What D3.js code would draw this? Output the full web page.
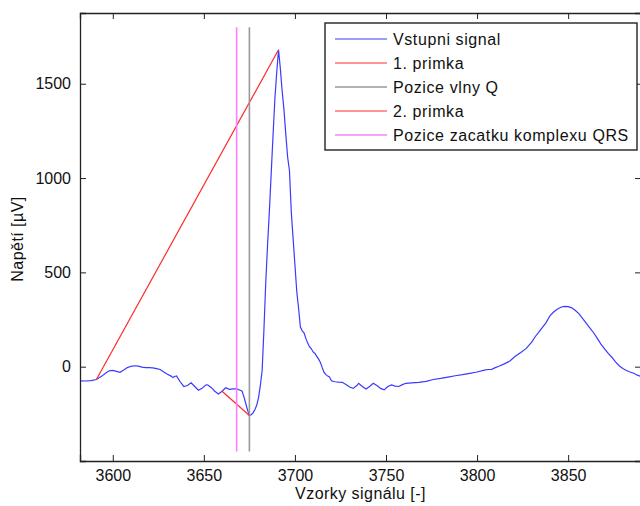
<!DOCTYPE html>
<html lang="cs">
<head>
<meta charset="UTF-8">
<title>Detekce Q</title>
<script src="https://d3js.org/d3.v7.min.js"></script>
<style>
  body { margin: 0; background: #fff; }
  text { font-family: "Liberation Sans", Arial, sans-serif; fill: #111; }
</style>
</head>
<body>
<div id="chart"></div>
<script>
// signal samples
const samples = [3582,3585,3588,3591,3594,3596,3598,3600,3602,3604,3606,3608,3610,3612,3614,3616,3618,3620,3622,3624,3626,3628,3630,3632,3633,3634,3635,3636,3637,3639,3641,3643,3645,3647,3649,3651,3652,3654,3656,3658,3660,3662,3664,3666,3668,3670,3671,3672,3673,3674,3675,3676,3677,3678,3679,3680,3681,3682,3683,3684,3685,3686,3687,3688,3689,3690,3691,3692,3693,3694,3695,3696,3697,3698,3699,3700,3701,3702,3703,3704,3705,3706,3707,3708,3709,3710,3711,3712,3713,3714,3715,3716,3717,3718,3719,3720,3722,3724,3726,3728,3730,3732,3734,3735,3737,3739,3741,3743,3745,3747,3749,3751,3753,3755,3757,3759,3761,3764,3768,3772,3776,3780,3784,3788,3792,3796,3800,3804,3806,3808,3810,3812,3815,3818,3821,3824,3827,3830,3832,3834,3836,3838,3840,3842,3844,3846,3848,3850,3852,3854,3856,3858,3860,3862,3864,3866,3868,3870,3872,3874,3876,3878,3880,3882,3884,3886,3888,3890];
const signal = [-75,-76,-74,-68,-50,-35,-22,-20,-25,-30,-18,-5,2,5,3,-2,-5,-5,-6,-10,-15,-28,-40,-50,-58,-52,-49,-65,-80,-105,-100,-85,-105,-125,-115,-97,-96,-110,-130,-145,-130,-112,-120,-118,-118,-125,-130,-160,-195,-230,-259,-255,-245,-228,-205,-165,-100,-20,200,450,650,830,1030,1230,1420,1560,1680,1580,1460,1360,1230,1110,1040,820,680,540,400,310,210,190,180,150,125,106,95,78,70,55,40,22,-5,-30,-42,-50,-55,-75,-80,-82,-83,-95,-108,-115,-100,-88,-105,-118,-105,-88,-100,-115,-123,-105,-97,-103,-105,-95,-88,-86,-83,-78,-68,-62,-55,-48,-42,-35,-28,-18,-15,-14,-5,2,15,30,55,75,97,130,160,185,210,235,270,290,305,315,320,318,312,298,280,255,230,205,180,150,120,95,70,50,25,5,-10,-20,-28,-35,-45,-52];

// fitted lines and markers
const line1 = [[3591, -68], [3691, 1680]];
const line2 = [[3660, -130], [3675, -259]];
const qPos = 3675;
const qrsStart = 3668;
const markerSpan = [-450, 1800];

const xTicks = [3600, 3650, 3700, 3750, 3800, 3850];
const yTicks = [0, 500, 1000, 1500];

const legendItems = [
  { label: "Vstupni signal", color: "#3a3aff", width: 1.2 },
  { label: "1. primka", color: "#ff2a2a", width: 1.2 },
  { label: "Pozice vlny Q", color: "#999999", width: 1.6 },
  { label: "2. primka", color: "#ff2a2a", width: 1.2 },
  { label: "Pozice zacatku komplexu QRS", color: "#ff80ff", width: 1.6 }
];

const width = 640, height = 506;
const mLeft = 80, mRight = 641, mTop = 13, mBottom = 461;

const svg = d3.select("#chart").append("svg")
  .attr("width", width)
  .attr("height", height);

const x = d3.scaleLinear().domain([3582, 3890]).range([mLeft, mRight]);
const y = d3.scaleLinear().domain([-500, 1875]).range([mBottom, mTop]);

const plot = svg.append("g");
plot.append("clipPath").attr("id", "clip")
  .append("rect").attr("x", mLeft).attr("y", mTop)
  .attr("width", mRight - mLeft).attr("height", mBottom - mTop);

const g = plot.append("g").attr("clip-path", "url(#clip)");
const line = d3.line().x(d => x(d[0])).y(d => y(d[1]));

// signal
g.append("path")
  .datum(samples.map((s, i) => [s, signal[i]]))
  .attr("d", line)
  .attr("fill", "none")
  .attr("stroke", legendItems[0].color)
  .attr("stroke-width", legendItems[0].width);

// 1. primka
g.append("path").datum(line1).attr("d", line)
  .attr("fill", "none").attr("stroke", legendItems[1].color).attr("stroke-width", legendItems[1].width);

// Q position
g.append("path").datum([[qPos, markerSpan[0]], [qPos, markerSpan[1]]]).attr("d", line)
  .attr("fill", "none").attr("stroke", legendItems[2].color).attr("stroke-width", legendItems[2].width);

// 2. primka
g.append("path").datum(line2).attr("d", line)
  .attr("fill", "none").attr("stroke", legendItems[3].color).attr("stroke-width", legendItems[3].width);

// QRS start
g.append("path").datum([[qrsStart, markerSpan[0]], [qrsStart, markerSpan[1]]]).attr("d", line)
  .attr("fill", "none").attr("stroke", legendItems[4].color).attr("stroke-width", legendItems[4].width);

// axes (matlab style box, ticks inside)
const tl = 6;
const axBottom = svg.append("g").attr("transform", `translate(0,${mBottom})`)
  .call(d3.axisBottom(x).tickValues(xTicks).tickSize(-tl).tickPadding(9).tickFormat(d3.format("d")));
const axTop = svg.append("g").attr("transform", `translate(0,${mTop})`)
  .call(d3.axisTop(x).tickValues(xTicks).tickSize(-tl).tickFormat(""));
const axLeft = svg.append("g").attr("transform", `translate(${mLeft},0)`)
  .call(d3.axisLeft(y).tickValues(yTicks).tickSize(-tl).tickPadding(9).tickFormat(d3.format("d")));
const axRight = svg.append("g").attr("transform", `translate(${mRight},0)`)
  .call(d3.axisRight(y).tickValues(yTicks).tickSize(-tl).tickFormat(""));

[axBottom, axTop, axLeft, axRight].forEach(a => {
  a.select(".domain").attr("stroke", "#222").attr("stroke-width", 1.3);
  a.selectAll(".tick line").attr("stroke", "#222");
  a.selectAll("text").attr("font-size", 16).attr("fill", "#111")
    .attr("font-family", "Liberation Sans, Arial, sans-serif");
});
axBottom.selectAll("text").attr("dy", "0.71em");

// axis titles
svg.append("text")
  .attr("x", (mLeft + mRight) / 2).attr("y", 499)
  .attr("text-anchor", "middle").attr("font-size", 16)
  .attr("letter-spacing", 0.45)
  .text("Vzorky signálu [-]");
svg.append("text")
  .attr("transform", `translate(23,${(mTop + mBottom) / 2 + 2}) rotate(-90)`)
  .attr("text-anchor", "middle").attr("font-size", 16)
  .attr("letter-spacing", 0.45)
  .text("Napětí [µV]");

// legend
const lg = svg.append("g").attr("transform", "translate(325,23)");
lg.append("rect").attr("width", 312).attr("height", 127)
  .attr("fill", "#fff").attr("stroke", "#222").attr("stroke-width", 1.4);
legendItems.forEach((d, i) => {
  const yy = 16 + i * 24;
  lg.append("line").attr("x1", 10).attr("x2", 62).attr("y1", yy).attr("y2", yy)
    .attr("stroke", d.color).attr("stroke-width", d.width);
  lg.append("text").attr("x", 68).attr("y", yy).attr("dy", "0.35em")
    .attr("font-size", 16).attr("letter-spacing", 0.6).text(d.label);
});
</script>
</body>
</html>
